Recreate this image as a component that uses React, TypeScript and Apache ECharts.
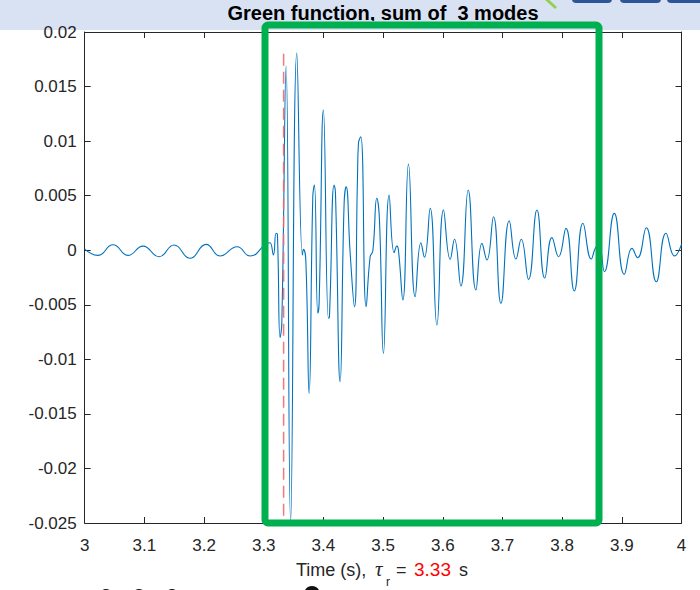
import React, { useEffect, useRef } from "react";
import * as echarts from "echarts";

// Time samples (s) at the turning points of the trace
const times = [
  3.0, 3.0223, 3.0474, 3.0726, 3.0977, 3.1246, 3.1497, 3.1766, 3.2034, 3.2268, 3.2553, 3.2771,
  3.3073, 3.3106, 3.3162, 3.3207, 3.3229, 3.3274, 3.3303, 3.3375, 3.345, 3.3554,
  3.3648, 3.3665, 3.3705, 3.376, 3.3822, 3.3849, 3.3906, 3.3928, 3.4, 3.4084, 3.4101,
  3.4179, 3.4201, 3.428, 3.4347, 3.4381, 3.4448, 3.452, 3.457, 3.4587, 3.4627, 3.4716,
  3.4783, 3.4828, 3.4895, 3.4939, 3.5006, 3.5101, 3.5185, 3.523, 3.5257, 3.5331, 3.5425,
  3.5537, 3.5633, 3.5693, 3.5789, 3.5901, 3.6012, 3.6124, 3.6196, 3.6303, 3.6426, 3.6555,
  3.6656, 3.6739, 3.685, 3.6974, 3.7113, 3.7226, 3.7314, 3.7437, 3.7578, 3.7708, 3.7829,
  3.794, 3.8064, 3.8203, 3.8349, 3.8488, 3.8555, 3.8614, 3.8708, 3.8874, 3.9041, 3.917,
  3.9264, 3.941, 3.9577, 3.974, 3.9884, 4.0,
];
// Green function amplitude at those times
const amps = [
  0.0001, -0.00047, 0.0005, -0.00047, 0.00038, -0.0006, 0.00048, -0.00074, 0.00054, -0.00053, 0.00032, -0.00053,
  0.00066, 0.00069, -0.00044, 0.00155, 0.00146, -0.008, -0.00667, 0.01688, -0.0249, 0.01807,
  -0.00044, 0.00008, -0.0009, -0.01312, 0.0049, 0.00598, -0.00578, -0.00484, 0.01285, -0.00624, -0.00609,
  0.00598, 0.00536, -0.01205, 0.0043, 0.00582, -0.00026, -0.00518, 0.00643, 0.00982, 0.0104, -0.00518,
  -0.0006, -0.00005, 0.00476, 0.00277, -0.00945, 0.00506, -0.00023, 0.00038, 0.00002, -0.00456, 0.0079,
  -0.00426, 0.00069, -0.00065, 0.00384, -0.00686, 0.00368, -0.00083, 0.001, -0.00328, 0.00552, -0.00365,
  0.00063, -0.0009, 0.00307, -0.00487, 0.0027, -0.00081, 0.001, -0.00267, 0.00368, -0.00255, 0.00115,
  -0.0006, 0.002, -0.00374, 0.00247, -0.00081, 0.00017, 0.00057, -0.00197, 0.00338, -0.00221, 0.00017,
  -0.00069, 0.00206, -0.00289, 0.00155, -0.00053, 0.00054,
];
const tauR = 3.3333;
const tauLine = [0.018, -0.025];
const xTicks = { min: 3, max: 4, interval: 0.1 };
const yTicks = { min: -0.025, max: 0.02, interval: 0.005 };
const titleText = "Green function, sum of  3 modes";

const FONT = "'Liberation Sans', Arial, Helvetica, sans-serif";
const AX = "#262626";

export default function App() {
  const ref = useRef<HTMLDivElement>(null);
  useEffect(() => {
    if (!ref.current) return;
    const chart = echarts.init(ref.current, undefined, { renderer: "svg" });
    const data = times.map((t, i) => [t, amps[i]]);
    const tickAxisCommon = {
      axisLine: { show: true, onZero: false, lineStyle: { color: AX, width: 1 } },
      axisTick: { show: true, inside: true, length: 6, lineStyle: { color: AX } },
      splitLine: { show: false },
    };
    chart.setOption({
      animation: false,
      backgroundColor: "#ffffff",
      grid: { left: 84.7, right: 18.5, top: 32, bottom: 67, containLabel: false, outerBoundsMode: "none" },
      xAxis: [
        {
          type: "value",
          ...xTicks,
          position: "bottom",
          ...tickAxisCommon,
          axisLabel: {
            color: AX,
            fontFamily: FONT,
            fontSize: 17,
            margin: 14,
            formatter: (v: number) => String(parseFloat(v.toFixed(1))),
          },
        },
        {
          type: "value",
          ...xTicks,
          position: "top",
          ...tickAxisCommon,
          axisLabel: { show: false },
        },
      ],
      yAxis: [
        {
          type: "value",
          ...yTicks,
          position: "left",
          ...tickAxisCommon,
          axisLabel: {
            color: AX,
            fontFamily: FONT,
            fontSize: 17,
            margin: 8,
            formatter: (v: number) => String(parseFloat(v.toFixed(3))),
          },
        },
        {
          type: "value",
          ...yTicks,
          position: "right",
          ...tickAxisCommon,
          axisLabel: { show: false },
        },
      ],
      series: [
        {
          type: "line",
          data,
          smooth: 0.5,
          symbol: "none",
          lineStyle: { color: "#0072bd", width: 1.1 },
          z: 3,
        },
        {
          type: "line",
          data: tauLine.map((v) => [tauR, v]),
          symbol: "none",
          lineStyle: { color: "#ee6a6a", width: 1.5, type: [12, 6], opacity: 0.9 },
          z: 4,
        },
      ],
      graphic: [
        { type: "rect", shape: { x: 0, y: 0, width: 700, height: 30 }, style: { fill: "#d9e2f3" }, z: -1, silent: true },
        {
          type: "text",
          x: 383,
          y: 23,
          style: {
            text: titleText,
            fill: "#000",
            font: `bold 20px ${FONT}`,
            textAlign: "center",
            textVerticalAlign: "bottom",
          },
          z: 1,
        },
        { type: "rect", shape: { x: 200, y: 21, width: 360, height: 9 }, style: { fill: "#d9e2f3" }, z: 2, silent: true },
        // x-axis name
        {
          type: "text",
          x: 296,
          y: 579,
          style: { text: "Time (s),", fill: AX, font: `18px ${FONT}`, textVerticalAlign: "bottom" },
          z: 5,
        },
        {
          type: "text",
          x: 375,
          y: 579,
          style: { text: "τ", fill: AX, font: `italic 21px 'Liberation Serif', serif`, textVerticalAlign: "bottom" },
          z: 5,
        },
        {
          type: "text",
          x: 386,
          y: 588,
          style: { text: "r", fill: AX, font: `12px ${FONT}`, textVerticalAlign: "bottom" },
          z: 5,
        },
        {
          type: "text",
          x: 396,
          y: 579,
          style: { text: "=", fill: AX, font: `18px ${FONT}`, textVerticalAlign: "bottom" },
          z: 5,
        },
        {
          type: "text",
          x: 414,
          y: 579,
          style: { text: "3.33", fill: "#ff0000", font: `19px ${FONT}`, textVerticalAlign: "bottom" },
          z: 5,
        },
        {
          type: "text",
          x: 459,
          y: 579,
          style: { text: "s", fill: AX, font: `18px ${FONT}`, textVerticalAlign: "bottom" },
          z: 5,
        },
        // green highlight box
        {
          type: "rect",
          shape: { x: 265, y: 25, width: 334, height: 498, r: 3 },
          style: { fill: "none", stroke: "#00b050", lineWidth: 7 },
          z: 10,
          silent: true,
        },
        // top-right toolbar fragments
        { type: "line", shape: { x1: 546, y1: -1, x2: 556, y2: 8 }, style: { stroke: "#92d050", lineWidth: 3 }, z: 6 },
        { type: "rect", shape: { x: 572, y: -6, width: 40, height: 9, r: 4 }, style: { fill: "#2f5597" }, z: 6 },
        { type: "rect", shape: { x: 620, y: -6, width: 41, height: 9, r: 4 }, style: { fill: "#2f5597" }, z: 6 },
        { type: "rect", shape: { x: 667, y: -6, width: 41, height: 9, r: 4 }, style: { fill: "#2f5597" }, z: 6 },
        // bottom fragments
        { type: "circle", shape: { cx: 106, cy: 596, r: 7 }, style: { fill: "#111" }, z: 6 },
        { type: "circle", shape: { cx: 139, cy: 596, r: 7 }, style: { fill: "#111" }, z: 6 },
        { type: "circle", shape: { cx: 172, cy: 596, r: 7 }, style: { fill: "#111" }, z: 6 },
        { type: "circle", shape: { cx: 312, cy: 594, r: 8 }, style: { fill: "#111" }, z: 6 },
      ],
    });
    return () => chart.dispose();
  }, []);
  return <div ref={ref} style={{ width: 700, height: 590, position: "absolute", left: 0, top: 0 }} />;
}
